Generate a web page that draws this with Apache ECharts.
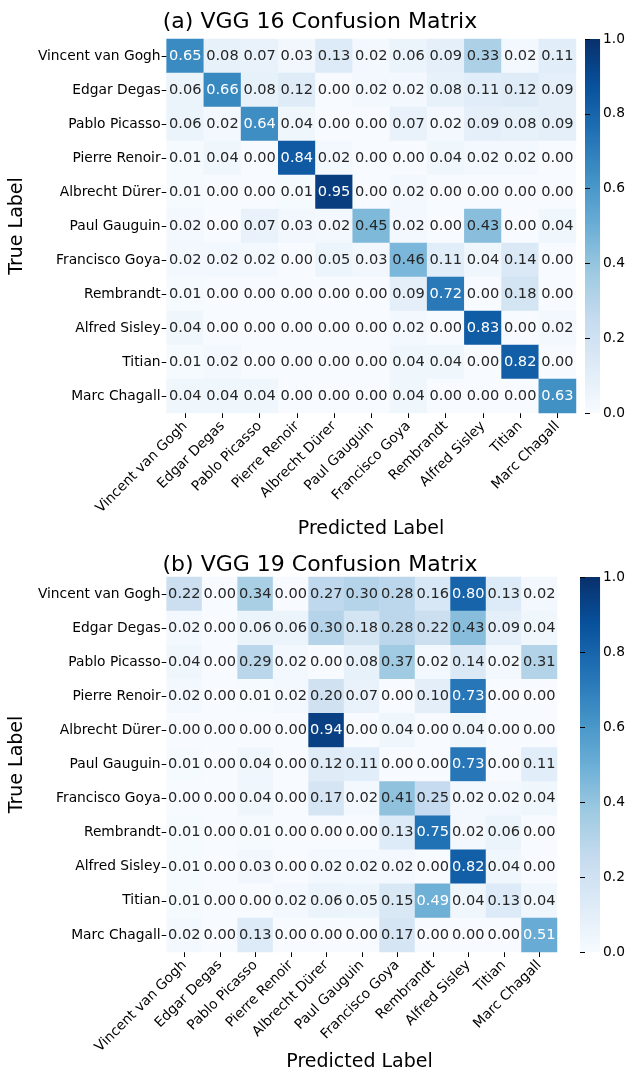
<!DOCTYPE html>
<html>
<head>
<meta charset="utf-8">
<script src="https://cdn.jsdelivr.net/npm/echarts@6/dist/echarts.min.js"></script>
<style>
  html, body { margin: 0; padding: 0; background: #fff; }
  #chart { width: 628px; height: 1074px; }
</style>
</head>
<body>
<div id="chart"></div>
<script>
// Painter classes, in the same order on both axes
const painters = [
  'Vincent van Gogh', 'Edgar Degas', 'Pablo Picasso', 'Pierre Renoir',
  'Albrecht Dürer', 'Paul Gauguin', 'Francisco Goya', 'Rembrandt',
  'Alfred Sisley', 'Titian', 'Marc Chagall'
];

// Row-normalised confusion matrix, VGG 16 (rows = true, cols = predicted)
const vgg16 = [
  [0.65, 0.08, 0.07, 0.03, 0.13, 0.02, 0.06, 0.09, 0.33, 0.02, 0.11],
  [0.06, 0.66, 0.08, 0.12, 0.00, 0.02, 0.02, 0.08, 0.11, 0.12, 0.09],
  [0.06, 0.02, 0.64, 0.04, 0.00, 0.00, 0.07, 0.02, 0.09, 0.08, 0.09],
  [0.01, 0.04, 0.00, 0.84, 0.02, 0.00, 0.00, 0.04, 0.02, 0.02, 0.00],
  [0.01, 0.00, 0.00, 0.01, 0.95, 0.00, 0.02, 0.00, 0.00, 0.00, 0.00],
  [0.02, 0.00, 0.07, 0.03, 0.02, 0.45, 0.02, 0.00, 0.43, 0.00, 0.04],
  [0.02, 0.02, 0.02, 0.00, 0.05, 0.03, 0.46, 0.11, 0.04, 0.14, 0.00],
  [0.01, 0.00, 0.00, 0.00, 0.00, 0.00, 0.09, 0.72, 0.00, 0.18, 0.00],
  [0.04, 0.00, 0.00, 0.00, 0.00, 0.00, 0.02, 0.00, 0.83, 0.00, 0.02],
  [0.01, 0.02, 0.00, 0.00, 0.00, 0.00, 0.04, 0.04, 0.00, 0.82, 0.00],
  [0.04, 0.04, 0.04, 0.00, 0.00, 0.00, 0.04, 0.00, 0.00, 0.00, 0.63]
];

// Row-normalised confusion matrix, VGG 19
const vgg19 = [
  [0.22, 0.00, 0.34, 0.00, 0.27, 0.30, 0.28, 0.16, 0.80, 0.13, 0.02],
  [0.02, 0.00, 0.06, 0.06, 0.30, 0.18, 0.28, 0.22, 0.43, 0.09, 0.04],
  [0.04, 0.00, 0.29, 0.02, 0.00, 0.08, 0.37, 0.02, 0.14, 0.02, 0.31],
  [0.02, 0.00, 0.01, 0.02, 0.20, 0.07, 0.00, 0.10, 0.73, 0.00, 0.00],
  [0.00, 0.00, 0.00, 0.00, 0.94, 0.00, 0.04, 0.00, 0.04, 0.00, 0.00],
  [0.01, 0.00, 0.04, 0.00, 0.12, 0.11, 0.00, 0.00, 0.73, 0.00, 0.11],
  [0.00, 0.00, 0.04, 0.00, 0.17, 0.02, 0.41, 0.25, 0.02, 0.02, 0.04],
  [0.01, 0.00, 0.01, 0.00, 0.00, 0.00, 0.13, 0.75, 0.02, 0.06, 0.00],
  [0.01, 0.00, 0.03, 0.00, 0.02, 0.02, 0.02, 0.00, 0.82, 0.04, 0.00],
  [0.01, 0.00, 0.00, 0.02, 0.06, 0.05, 0.15, 0.49, 0.04, 0.13, 0.04],
  [0.02, 0.00, 0.13, 0.00, 0.00, 0.00, 0.17, 0.00, 0.00, 0.00, 0.51]
];

const titles = ['(a) VGG 16 Confusion Matrix', '(b) VGG 19 Confusion Matrix'];
const xAxisName = 'Predicted Label';
const yAxisName = 'True Label';
const colorbarTicks = [0, 0.2, 0.4, 0.6, 0.8, 1.0];

// "Blues" sequential palette
const blues = ['#f7fbff', '#deebf7', '#c6dbef', '#9ecae1', '#6baed6',
               '#4292c6', '#2171b5', '#08519c', '#08306b'];

const FONT = 'DejaVu Sans';
const TICK_SIZE = 13.8;
const ANNOT_SIZE = 14.6;

function hexToRgb(h) {
  return [1, 3, 5].map(i => parseInt(h.substr(i, 2), 16) / 255);
}
// colour of a value on the palette (used only to pick a readable annotation colour)
function paletteRgb(v) {
  const t = Math.max(0, Math.min(1, v)) * (blues.length - 1);
  const i = Math.min(blues.length - 2, Math.floor(t));
  const f = t - i;
  const a = hexToRgb(blues[i]), b = hexToRgb(blues[i + 1]);
  return a.map((c, k) => c + (b[k] - c) * f);
}
function luminance(rgb) {
  const lin = rgb.map(c => c <= 0.03928 ? c / 12.92 : Math.pow((c + 0.055) / 1.055, 2.4));
  return 0.2126 * lin[0] + 0.7152 * lin[1] + 0.0722 * lin[2];
}
function cells(matrix) {
  const out = [];
  matrix.forEach((row, r) => row.forEach((v, c) => {
    out.push({
      value: [c, r, v],
      label: { color: luminance(paletteRgb(v)) > 0.408 ? '#262626' : '#ffffff' }
    });
  }));
  return out;
}

// vertical gradient for the colour bar, bottom = 0, top = 1
const barGradient = new echarts.graphic.LinearGradient(0, 1, 0, 0,
  blues.map((c, i) => ({ offset: i / (blues.length - 1), color: c })));

// Panel geometry
const panels = [
  { left: 156, top: 39, width: 420, height: 374, cbLeft: 585, titleTop: 6, nameTop: 515 },
  { left: 152, top: 577, width: 405, height: 375, cbLeft: 580, titleTop: 549, nameTop: 1048 }
];

const grid = [], xAxis = [], yAxis = [], series = [], visualMap = [], title = [];

panels.forEach((p, k) => {
  const hm = k * 2, cb = k * 2 + 1;
  grid.push({ left: p.left, top: p.top, width: p.width, height: p.height });
  grid.push({ left: p.cbLeft, top: p.top, width: 21, height: p.height,
              show: true, backgroundColor: barGradient, borderWidth: 0 });

  title.push({
    text: titles[k], left: 315, top: p.titleTop, textAlign: 'center',
    textStyle: { fontFamily: FONT, fontSize: 22, fontWeight: 'normal', color: '#000' }
  });
  title.push({
    text: xAxisName, left: p.left + p.width / 2, top: p.nameTop, textAlign: 'center',
    textStyle: { fontFamily: FONT, fontSize: 19, fontWeight: 'normal', color: '#000' }
  });

  xAxis.push({
    type: 'category', gridIndex: hm, data: painters, position: 'bottom',
    axisLine: { show: false },
    axisTick: { show: true, alignWithLabel: true, length: 5, lineStyle: { color: '#000', width: 1 } },
    axisLabel: { interval: 0, rotate: 45, margin: 11, fontFamily: FONT, fontSize: TICK_SIZE, color: '#000' },
    splitLine: { show: false }
  });
  yAxis.push({
    type: 'category', gridIndex: hm, data: painters, inverse: true,
    name: yAxisName, nameLocation: 'middle', nameRotate: 90, nameGap: p.left - 18,
    nameTextStyle: { fontFamily: FONT, fontSize: 19, color: '#000' },
    axisLine: { show: false },
    axisTick: { show: true, alignWithLabel: true, length: 5, lineStyle: { color: '#000', width: 1 } },
    axisLabel: { interval: 0, margin: 6, fontFamily: FONT, fontSize: TICK_SIZE, color: '#000' },
    splitLine: { show: false }
  });

  // colour bar scale
  xAxis.push({ type: 'value', gridIndex: cb, show: false, min: 0, max: 1 });
  yAxis.push({
    type: 'value', gridIndex: cb, position: 'right',
    min: colorbarTicks[0], max: colorbarTicks[colorbarTicks.length - 1], interval: 0.2,
    axisLine: { show: false }, splitLine: { show: false },
    axisTick: { show: true, inside: false, length: 5, lineStyle: { color: '#000', width: 1 } },
    axisLabel: { margin: 3, fontFamily: FONT, fontSize: TICK_SIZE, color: '#000', formatter: v => v.toFixed(1) }
  });

  series.push({
    type: 'heatmap', xAxisIndex: hm, yAxisIndex: hm,
    data: cells(k === 0 ? vgg16 : vgg19),
    label: { show: true, fontFamily: FONT, fontSize: ANNOT_SIZE, formatter: d => d.value[2].toFixed(2) },
    itemStyle: { borderWidth: 0 },
    emphasis: { disabled: true }
  });

  visualMap.push({
    type: 'continuous', seriesIndex: k, dimension: 2, min: 0, max: 1,
    show: false, inRange: { color: blues }
  });
});

const chart = echarts.init(document.getElementById('chart'), null, { renderer: 'canvas' });
chart.setOption({
  animation: false,
  backgroundColor: '#ffffff',
  title, grid, xAxis, yAxis, series, visualMap
});
</script>
</body>
</html>
